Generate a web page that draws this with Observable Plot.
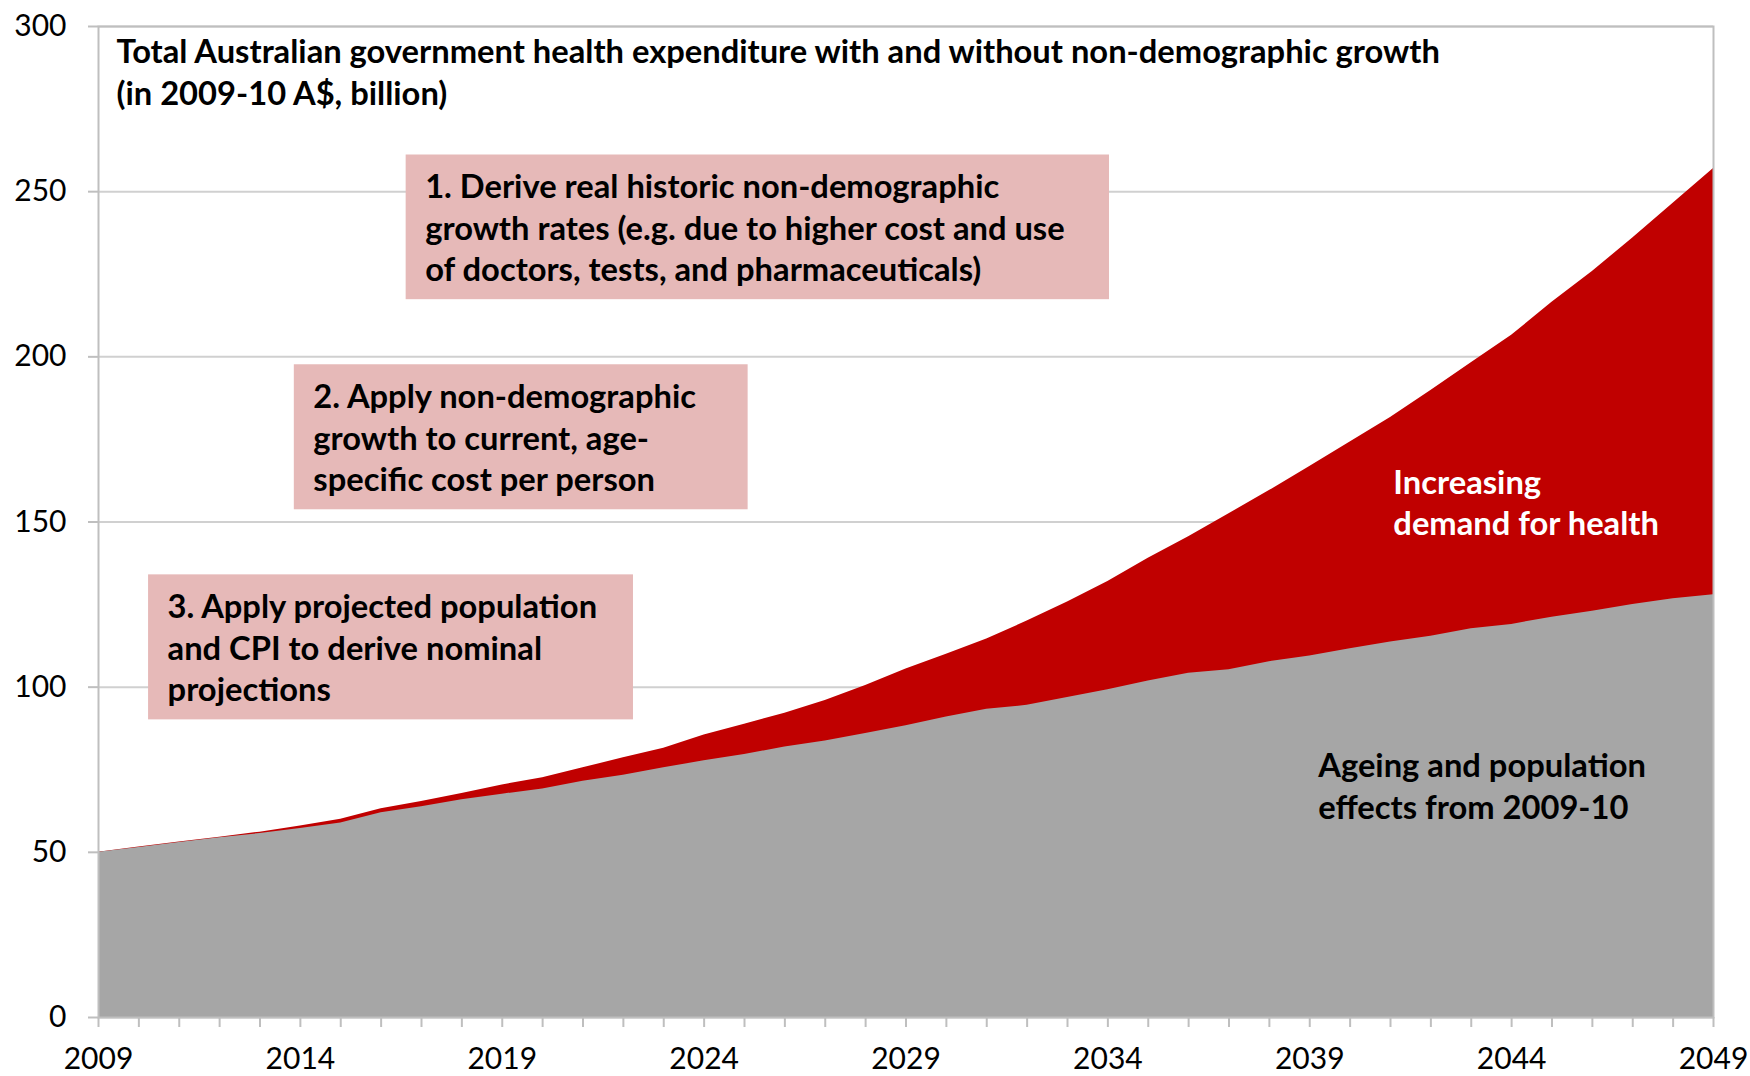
<!DOCTYPE html>
<html><head><meta charset="utf-8">
<script src="https://cdn.jsdelivr.net/npm/d3@7"></script>
<script src="https://cdn.jsdelivr.net/npm/@observablehq/plot@0.6"></script>
<style>
html,body{margin:0;padding:0;background:#fff;}
#chart{width:1750px;height:1076px;overflow:hidden;}
</style></head><body><div id="chart"></div>
<script>
// ---- data ----
const years = [2009,2010,2011,2012,2013,2014,2015,2016,2017,2018,2019,2020,2021,2022,2023,2024,2025,2026,2027,2028,2029,2030,2031,2032,2033,2034,2035,2036,2037,2038,2039,2040,2041,2042,2043,2044,2045,2046,2047,2048,2049];
// Ageing and population effects only (without non-demographic growth)
const demographic = [50.0,51.5,53.0,54.4,55.7,57.2,58.9,62.0,63.8,65.9,67.6,69.2,71.5,73.3,75.6,77.7,79.6,81.9,83.7,86.0,88.3,91.0,93.3,94.5,96.9,99.2,101.9,104.2,105.3,107.7,109.4,111.6,113.7,115.4,117.7,119.0,121.2,123.0,125.0,126.8,128.0];
// Total with non-demographic growth
const total = [50.0,51.6,53.1,54.6,56.1,58.0,60.0,63.2,65.4,67.8,70.4,72.6,75.6,78.6,81.5,85.5,88.8,92.1,96.0,100.5,105.5,110.0,114.6,120.0,125.8,132.0,139.0,145.5,152.5,159.5,166.8,174.2,181.6,189.8,198.2,206.5,216.5,225.8,236.0,246.5,257.0];
const yTicks = [0,50,100,150,200,250,300];
const xLabelTicks = [2009,2014,2019,2024,2029,2034,2039,2044,2049];

const titleText = "Total Australian government health expenditure with and without non-demographic growth\n(in 2009-10 A$, billion)";
const boxes = [
  {x1:2016.62, x2:2034.04, y1:217.3, y2:261.1, text:"1. Derive real historic non-demographic\ngrowth rates (e.g. due to higher cost and use\nof doctors, tests, and pharmaceuticals)"},
  {x1:2013.85, x2:2025.09, y1:153.7, y2:197.6, text:"2. Apply non-demographic\ngrowth to current, age-\nspecific cost per person"},
  {x1:2010.24, x2:2022.25, y1:90.1, y2:134.0, text:"3. Apply projected population\nand CPI to derive nominal\nprojections"}
];
const areaLabels = [
  {x:2041.07, y:156.3, text:"Increasing\ndemand for health", color:"white"},
  {x:2039.21, y:70.5, text:"Ageing and population\neffects from 2009-10", color:"black"}
];

const rows = years.map((y,i)=>({year:y, demographic:demographic[i], total:total[i]}));

const FONT = "Lato, 'Open Sans', sans-serif";
const TXT = 32.7;     // annotation font size
const LH = 41.5/TXT;  // line height (em)
const GRID = "#D0D0D0";
const AXIS = "#BFBFBF";

const chart = Plot.plot({
  width: 1750, height: 1076,
  marginLeft: 98, marginRight: 37, marginTop: 26, marginBottom: 59,
  style: {fontFamily: FONT, background: "white", color: "black"},
  x: {domain: [2009, 2049]},
  y: {domain: [0, 300]},
  marks: [
    Plot.gridY(yTicks, {stroke: GRID, strokeOpacity: 1, strokeWidth: 2}),
    Plot.areaY(rows, {x: "year", y: "total", fill: "#C00000"}),
    Plot.areaY(rows, {x: "year", y: "demographic", fill: "#A6A6A6"}),
    Plot.frame({stroke: AXIS, strokeWidth: 2}),
    Plot.axisY(yTicks, {tickSize: 10, tickPadding: 22, stroke: AXIS, strokeWidth: 2, fill: "black", fontSize: 30, fontFamily: FONT, label: null}),
    Plot.axisX(years, {tickSize: 10, stroke: AXIS, strokeWidth: 2, text: null, label: null}),
    Plot.axisX(xLabelTicks, {tickSize: 0, tickPadding: 30, tickFormat: d => String(d), fill: "black", fontSize: 30, fontFamily: FONT, label: null}),
    Plot.text([titleText], {frameAnchor: "top-left", dx: 18, dy: 44, lineAnchor: "middle", textAnchor: "start", fontSize: TXT, fontWeight: "bold", lineHeight: LH, fill: "black"}),
    Plot.rect(boxes, {x1: "x1", x2: "x2", y1: "y1", y2: "y2", fill: "#E6B9B8"}),
    Plot.text(boxes, {x: "x1", y: d => (d.y1 + d.y2) / 2, text: "text", dx: 19, dy: -1, textAnchor: "start", lineAnchor: "middle", fontSize: TXT, fontWeight: "bold", lineHeight: LH, fill: "black"}),
    Plot.text(areaLabels, {x: "x", y: "y", text: "text", textAnchor: "start", lineAnchor: "middle", fontSize: TXT, fontWeight: "bold", lineHeight: LH, fill: "color"})
  ]
});
document.getElementById("chart").appendChild(chart);
</script>
</body></html>
